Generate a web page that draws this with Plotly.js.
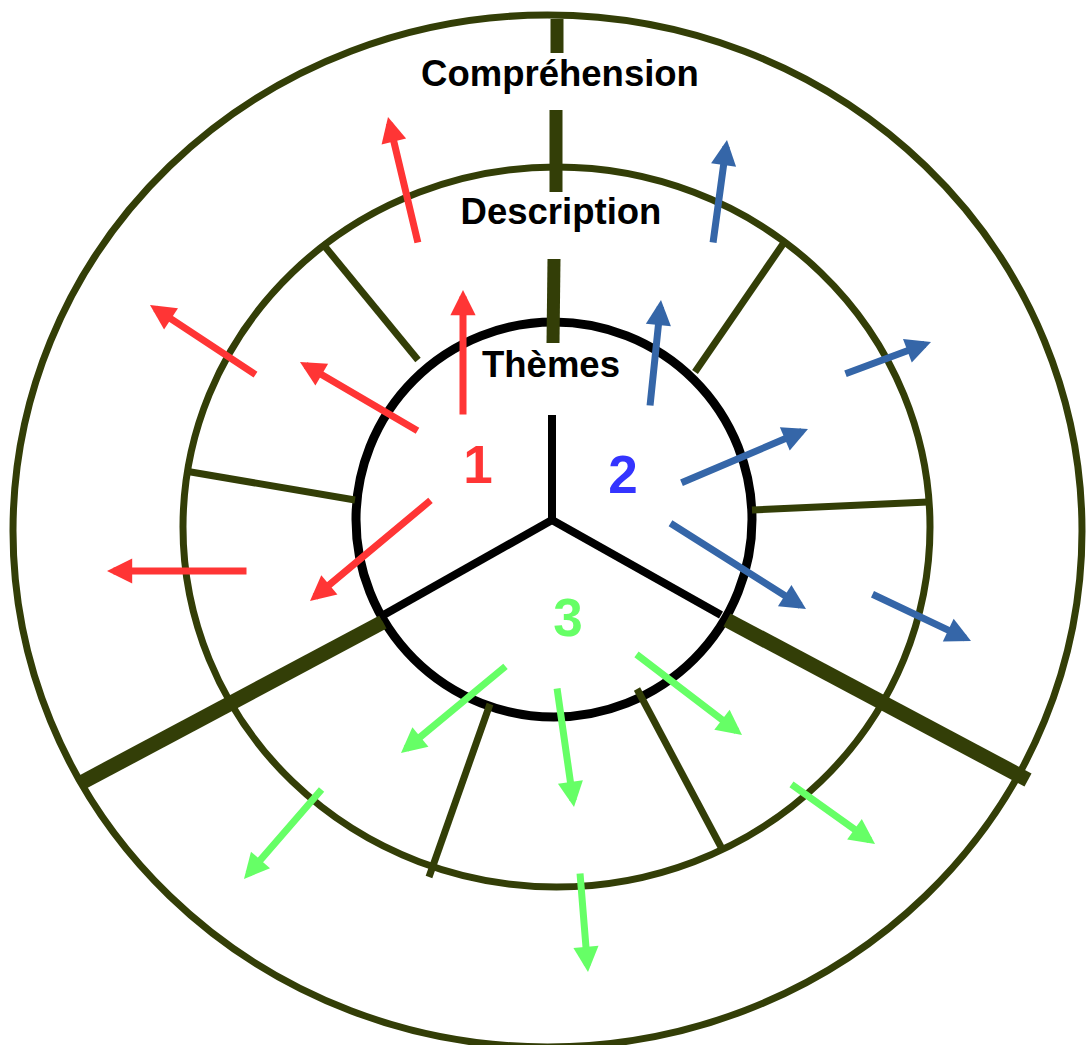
<!DOCTYPE html>
<html>
<head>
<meta charset="utf-8">
<script src="https://cdn.plot.ly/plotly-3.0.1.min.js"></script>
<style>
  html, body { margin: 0; padding: 0; background: #ffffff; }
  #chart { width: 1086px; height: 1045px; }
</style>
</head>
<body>
<div id="chart"></div>
<script>
// ---- Diagram data (page pixel units) ----
// Rings: outer (Compréhension), middle (Description), inner (Thèmes)
const ringX0 = [13, 183, 356];
const ringX1 = [1082, 930, 752];
const ringY0 = [15, 167, 322];
const ringY1 = [1047, 887, 717];

// Level labels
const levelLabels = ['Compréhension', 'Description', 'Thèmes'];
const levelLabelX = [560, 561, 551];
const levelLabelY = [77, 215, 368];

// Theme numbers
const themeLabels = ['1', '2', '3'];
const themeLabelX = [478, 623, 568];
const themeLabelY = [470, 480, 623];

// Inner "Y" dividing the three themes (centre then three ends)
const hubX = [552, 552, 552];
const hubY = [520, 520, 520];
const spokeEndX = [552, 380, 721];
const spokeEndY = [415, 617, 615];

// Thick separators between theme sectors
const topSepX0 = [557, 556, 554];
const topSepY0 = [19, 110, 259];
const topSepX1 = [557, 556, 553];
const topSepY1 = [53, 192, 343];
const lowSepX0 = [383, 727];
const lowSepY0 = [622, 620];
const lowSepX1 = [79, 1028];
const lowSepY1 = [784, 780];

// Thin sub-dividers of the Description ring
const divX0 = [322, 185, 783, 752, 490, 637];
const divY0 = [243, 471, 244, 510, 704, 689];
const divX1 = [418, 355, 695, 928, 429, 721];
const divY1 = [360, 500, 372, 502, 877, 847];

// Arrows of theme 1 (red)
const redTailX = [418, 463, 418, 256, 247, 431];
const redTailY = [243, 415, 431, 375, 571, 500];
const redTipX  = [388, 463, 300, 150, 107, 310];
const redTipY  = [117, 290, 362, 305, 571, 601];

// Arrows of theme 2 (blue)
const blueTailX = [713, 650, 845, 681, 670, 872];
const blueTailY = [243, 406, 374, 483, 523, 594];
const blueTipX  = [727, 661, 931, 808, 806, 971];
const blueTipY  = [140, 300, 342, 429, 609, 641];

// Arrows of theme 3 (green)
const greenTailX = [506, 557, 636, 322, 791, 580];
const greenTailY = [666, 688, 654, 789, 784, 873];
const greenTipX  = [401, 574, 742, 244, 875, 588];
const greenTipY  = [753, 807, 735, 879, 844, 972];

// ---- Styles ----
const OLIVE = '#333e07';
const RED = '#ff3535';
const BLUE_ARROW = '#3566a8';
const BLUE_TEXT = '#3434ff';
const GREEN = '#66ff66';
const FONT = 'Liberation Sans, Arial, Helvetica, sans-serif';

function segs(x0, y0, x1, y1) {
  const xs = [], ys = [];
  for (let i = 0; i < x0.length; i++) {
    xs.push(x0[i], x1[i], null);
    ys.push(y0[i], y1[i], null);
  }
  return {x: xs, y: ys};
}

const traces = [];
function lineTrace(s, color, width) {
  traces.push({
    type: 'scatter', mode: 'lines', x: s.x, y: s.y,
    line: {color: color, width: width},
    hoverinfo: 'skip', showlegend: false
  });
}

lineTrace(segs(divX0, divY0, divX1, divY1), OLIVE, 7);
lineTrace(segs(topSepX0, topSepY0, topSepX1, topSepY1), OLIVE, 13);
lineTrace(segs(lowSepX0, lowSepY0, lowSepX1, lowSepY1), OLIVE, 15);
lineTrace(segs(hubX, hubY, spokeEndX, spokeEndY), '#000000', 8);

traces.push({
  type: 'scatter', mode: 'text',
  x: levelLabelX, y: levelLabelY, text: levelLabels,
  textposition: 'middle center',
  textfont: {family: FONT, size: 36.5, color: '#000000', weight: 'bold'},
  hoverinfo: 'skip', showlegend: false
});
traces.push({
  type: 'scatter', mode: 'text',
  x: themeLabelX, y: themeLabelY, text: themeLabels,
  textposition: 'middle center',
  textfont: {family: FONT, size: 53, color: [RED, BLUE_TEXT, GREEN], weight: 'bold'},
  hoverinfo: 'skip', showlegend: false
});

const shapes = [];
const ringColors = [OLIVE, OLIVE, '#000000'];
const ringWidths = [7, 7, 9];
for (let i = 0; i < ringX0.length; i++) {
  shapes.push({
    type: 'circle', xref: 'x', yref: 'y', layer: 'below',
    x0: ringX0[i], x1: ringX1[i], y0: ringY0[i], y1: ringY1[i],
    line: {color: ringColors[i], width: ringWidths[i]},
    fillcolor: 'rgba(0,0,0,0)'
  });
}

const annotations = [];
const AW = 7, AS = 0.72;
function arrows(tx, ty, hx, hy, color) {
  for (let i = 0; i < tx.length; i++) {
    annotations.push({
      xref: 'x', yref: 'y', axref: 'x', ayref: 'y',
      x: hx[i], y: hy[i], ax: tx[i], ay: ty[i],
      text: '', showarrow: true, arrowhead: 2,
      arrowwidth: AW, arrowsize: AS, standoff: 0,
      arrowcolor: color, font: {size: 1}, borderpad: 0
    });
  }
}
arrows(redTailX, redTailY, redTipX, redTipY, RED);
arrows(blueTailX, blueTailY, blueTipX, blueTipY, BLUE_ARROW);
arrows(greenTailX, greenTailY, greenTipX, greenTipY, GREEN);

const layout = {
  width: 1086, height: 1045,
  margin: {l: 0, r: 0, t: 0, b: 0, pad: 0},
  paper_bgcolor: '#ffffff', plot_bgcolor: '#ffffff',
  xaxis: {range: [0, 1086], visible: false, fixedrange: true},
  yaxis: {range: [1045, 0], visible: false, fixedrange: true},
  shapes: shapes,
  annotations: annotations,
  showlegend: false
};

Plotly.newPlot('chart', traces, layout, {displayModeBar: false, staticPlot: true});
</script>
</body>
</html>
